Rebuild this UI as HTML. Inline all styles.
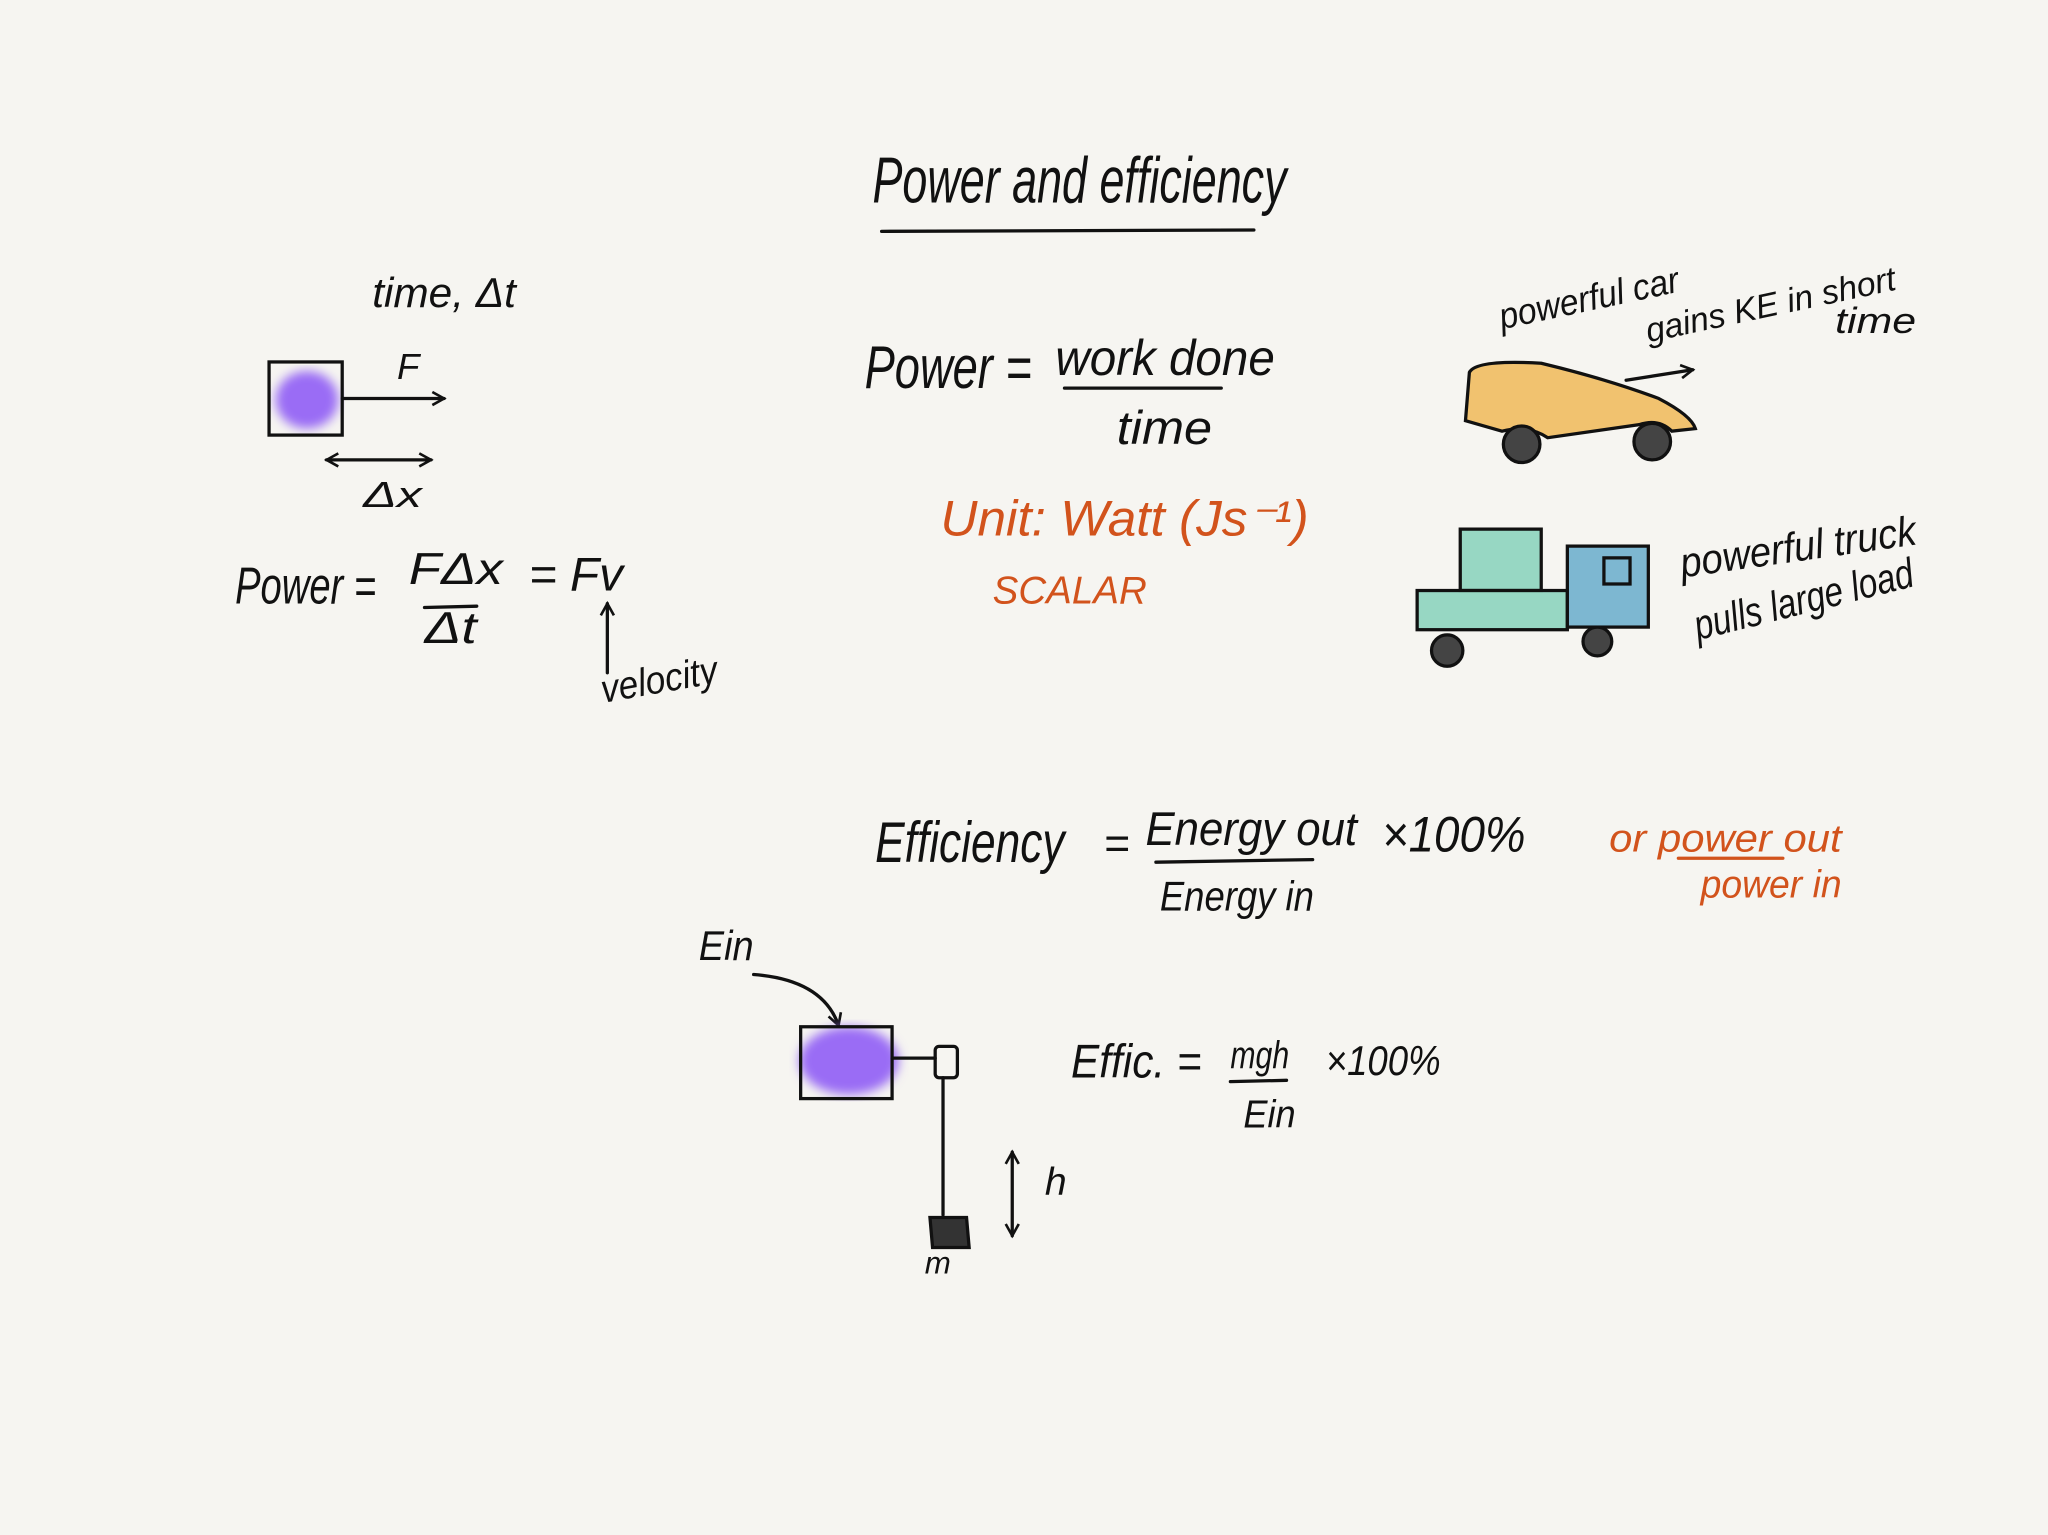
<!DOCTYPE html>
<html><head><meta charset="utf-8"><style>
html,body{margin:0;padding:0;background:#f6f5f1;}
svg{display:block}
text{font-family:"Liberation Sans",sans-serif;font-style:italic;fill:#111}
.o{fill:#d2531c}
</style></head><body>
<svg width="2048" height="1535" viewBox="0 0 1568 1175" xmlns="http://www.w3.org/2000/svg">
<defs>
<filter id="b"><feGaussianBlur stdDeviation="4"/></filter>
<marker id="ah" markerWidth="12" markerHeight="12" refX="10" refY="6" orient="auto-start-reverse" markerUnits="userSpaceOnUse"><path d="M1,1 L10,6 L1,11" fill="none" stroke="#111" stroke-width="2"/></marker>
</defs>
<rect width="1568" height="1175" fill="#f6f5f1"/>
<g stroke="#111" stroke-width="2.5" fill="none" stroke-linecap="round">
<line x1="675" y1="177" x2="960" y2="176"/>
<ellipse cx="235" cy="306" rx="24" ry="22" fill="#9a6cf5" stroke="none" filter="url(#b)"/>
<rect x="206" y="277" width="56" height="56"/>
<line x1="262" y1="305" x2="340" y2="305" marker-end="url(#ah)"/>
<line x1="250" y1="352" x2="330" y2="352" marker-end="url(#ah)" marker-start="url(#ah)"/>
<line x1="325" y1="465" x2="365" y2="464"/>
<line x1="465" y1="515" x2="465" y2="462" marker-end="url(#ah)"/>
<line x1="815" y1="297" x2="935" y2="297"/>
<path d="M1125,285 Q1130,275 1180,278 Q1230,290 1270,305 Q1295,318 1298,328 L1280,330 Q1270,320 1255,325 L1185,335 Q1170,325 1150,330 L1122,322 Z" fill="#f0b54f" fill-opacity="0.8"/>
<circle cx="1165" cy="340" r="14" fill="#444"/>
<circle cx="1265" cy="338" r="14" fill="#444"/>
<line x1="1245" y1="291" x2="1296" y2="283" marker-end="url(#ah)"/>
<rect x="1118" y="405" width="62" height="47" fill="#7fcfb8" fill-opacity="0.8"/>
<rect x="1085" y="452" width="115" height="30" fill="#7fcfb8" fill-opacity="0.8"/>
<rect x="1200" y="418" width="62" height="62" fill="#5fa8c9" fill-opacity="0.8"/>
<rect x="1228" y="427" width="20" height="20"/>
<circle cx="1108" cy="498" r="12" fill="#444"/>
<circle cx="1223" cy="491" r="11" fill="#444"/>
<line x1="885" y1="660" x2="1005" y2="658"/>
<line x1="1285" y1="657" x2="1365" y2="657" stroke="#d2531c"/>
<path d="M577,746 Q630,750 642,785" marker-end="url(#ah)"/>
<ellipse cx="650" cy="812" rx="38" ry="26" fill="#9a6cf5" stroke="none" filter="url(#b)"/>
<rect x="613" y="786" width="70" height="55"/>
<line x1="683" y1="810" x2="716" y2="810"/>
<rect x="716" y="801" width="17" height="24" rx="3"/>
<line x1="722" y1="825" x2="722" y2="930"/>
<path d="M712,932 L740,932 L742,955 L714,955 Z" fill="#333"/>
<line x1="775" y1="882" x2="775" y2="946" marker-end="url(#ah)" marker-start="url(#ah)"/>
<line x1="942" y1="828" x2="985" y2="827"/>
</g>
<g lengthAdjust="spacingAndGlyphs">
<text x="668" y="155" font-size="50" textLength="317" lengthAdjust="spacingAndGlyphs">Power and efficiency</text>
<text x="285" y="235" font-size="32" textLength="110" lengthAdjust="spacingAndGlyphs">time, Δt</text>
<text x="304" y="290" font-size="28">F</text>
<text x="278" y="388" font-size="28" textLength="45" lengthAdjust="spacingAndGlyphs">Δx</text>
<text x="180" y="462" font-size="40" textLength="108" lengthAdjust="spacingAndGlyphs">Power =</text>
<text x="313" y="447" font-size="34" textLength="72" lengthAdjust="spacingAndGlyphs">FΔx</text>
<text x="325" y="492" font-size="34" textLength="40" lengthAdjust="spacingAndGlyphs">Δt</text>
<text x="405" y="452" font-size="36" textLength="72" lengthAdjust="spacingAndGlyphs">= Fv</text>
<text x="462" y="538" font-size="30" transform="rotate(-10 462 538)" textLength="90" lengthAdjust="spacingAndGlyphs">velocity</text>
<text x="662" y="297" font-size="46" textLength="128" lengthAdjust="spacingAndGlyphs">Power =</text>
<text x="808" y="287" font-size="38" textLength="168" lengthAdjust="spacingAndGlyphs">work done</text>
<text x="855" y="340" font-size="36" textLength="73" lengthAdjust="spacingAndGlyphs">time</text>
<text x="720" y="410" font-size="38" class="o" textLength="282" lengthAdjust="spacingAndGlyphs">Unit: Watt (Js⁻¹)</text>
<text x="760" y="462" font-size="30" class="o" textLength="118" lengthAdjust="spacingAndGlyphs">SCALAR</text>
<text x="1150" y="252" font-size="28" transform="rotate(-12 1150 252)" textLength="140" lengthAdjust="spacingAndGlyphs">powerful car</text>
<text x="1262" y="262" font-size="26" transform="rotate(-12 1262 262)" textLength="195" lengthAdjust="spacingAndGlyphs">gains KE in short</text>
<text x="1405" y="255" font-size="28" textLength="62" lengthAdjust="spacingAndGlyphs">time</text>
<text x="1288" y="442" font-size="32" transform="rotate(-8 1288 442)" textLength="182" lengthAdjust="spacingAndGlyphs">powerful truck</text>
<text x="1300" y="490" font-size="32" transform="rotate(-14 1300 490)" textLength="172" lengthAdjust="spacingAndGlyphs">pulls large load</text>
<text x="670" y="660" font-size="44" textLength="145" lengthAdjust="spacingAndGlyphs">Efficiency</text>
<text x="845" y="657" font-size="34">=</text>
<text x="877" y="647" font-size="36" textLength="162" lengthAdjust="spacingAndGlyphs">Energy out</text>
<text x="888" y="697" font-size="32" textLength="118" lengthAdjust="spacingAndGlyphs">Energy in</text>
<text x="1058" y="652" font-size="38" textLength="110" lengthAdjust="spacingAndGlyphs">×100%</text>
<text x="1232" y="652" font-size="30" class="o" textLength="178" lengthAdjust="spacingAndGlyphs">or power out</text>
<text x="1302" y="687" font-size="30" class="o" textLength="108" lengthAdjust="spacingAndGlyphs">power in</text>
<text x="535" y="735" font-size="32" textLength="42" lengthAdjust="spacingAndGlyphs">Ein</text>
<text x="708" y="975" font-size="24">m</text>
<text x="800" y="915" font-size="30">h</text>
<text x="820" y="825" font-size="36" textLength="100" lengthAdjust="spacingAndGlyphs">Effic. =</text>
<text x="942" y="818" font-size="30" textLength="45" lengthAdjust="spacingAndGlyphs">mgh</text>
<text x="952" y="863" font-size="30" textLength="40" lengthAdjust="spacingAndGlyphs">Ein</text>
<text x="1015" y="823" font-size="32" textLength="88" lengthAdjust="spacingAndGlyphs">×100%</text>
</g>
</svg>
</body></html>
